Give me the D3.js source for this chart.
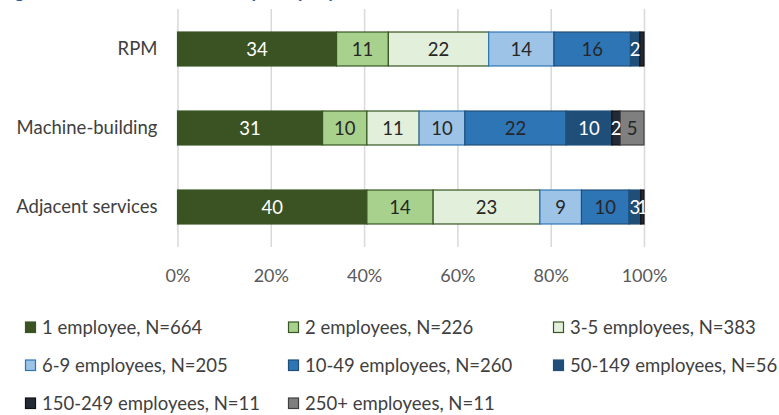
<!DOCTYPE html>
<html>
<head>
<meta charset="utf-8">
<script src="https://cdn.jsdelivr.net/npm/d3@7"></script>
<style>
  body { margin: 0; background: #fff; }
  svg text { font-family: Lato, "Open Sans", sans-serif; }
</style>
</head>
<body>
<div id="chart"></div>
<script>
// stacked 100% bars: company size by sector

var svgWidth = 779;
var svgHeight = 415;

// data
var categories = ["RPM", "Machine-building", "Adjacent services"];
var seriesNames = ["1 employee, N=664", "2 employees, N=226", "3-5 employees, N=383",
  "6-9 employees, N=205", "10-49 employees, N=260", "50-149 employees, N=56",
  "150-249 employees, N=11", "250+ employees, N=11"];
var rpmValues = [34.1, 11.1, 21.5, 14.0, 16.4, 2.0, 0.9, 0];
var machineValues = [31.1, 9.5, 11.2, 9.8, 21.7, 9.8, 1.8, 5.1];
var adjacentValues = [40.6, 14.2, 22.9, 8.9, 10.2, 2.5, 0.7, 0];
var rpmLabels = ["34", "11", "22", "14", "16", "2", "", ""];
var machineLabels = ["31", "10", "11", "10", "22", "10", "2", "5"];
var adjacentLabels = ["40", "14", "23", "9", "10", "3", "1", ""];
var tickValues = [0, 20, 40, 60, 80, 100];

var fills = ["#3b5323", "#a9d18e", "#e2efda", "#9dc3e6", "#2e75b6", "#1f4e79", "#222a35", "#7f7f7f"];
var strokes = ["#375623", "#375623", "#375623", "#2e75b6", "#1f4e79", "#1f4e79", "#111111", "#404040"];
var labelColors = ["#ffffff", "#262626", "#262626", "#262626", "#262626", "#ffffff", "#ffffff", "#262626"];

var valuesByCat = [rpmValues, machineValues, adjacentValues];
var labelsByCat = [rpmLabels, machineLabels, adjacentLabels];

// table for d3.stack
var table = categories.map(function(c, i) {
  var row = { cat: c };
  seriesNames.forEach(function(s, j) { row[s] = valuesByCat[i][j]; });
  return row;
});

var svg = d3.select("#chart")
  .append("svg")
  .attr("width", svgWidth)
  .attr("height", svgHeight);

// title, mostly cropped off the top in the original
svg.append("text")
  .attr("x", 0)
  .attr("y", -2)
  .attr("fill", "#2f5597")
  .attr("font-weight", "bold")
  .attr("font-size", 18)
  .text("Figure 2: Distribution of firms by company size");

var x = d3.scaleLinear().domain([0, 100]).range([177.5, 644]);
var y = d3.scaleBand().domain(categories).range([9.5, 246.5])
  .paddingInner(0.57).paddingOuter(0.285);

// gridlines + tick labels
var xAxis = svg.append("g")
  .attr("transform", "translate(0,247)")
  .call(d3.axisBottom(x)
    .tickValues(tickValues)
    .tickSize(-238)
    .tickPadding(22)
    .tickFormat(function(d) { return d + "%"; }));
xAxis.select(".domain").remove();
xAxis.selectAll("line").attr("stroke", "#d9d9d9").attr("stroke-width", 1.5);
xAxis.selectAll("text").attr("fill", "#595959").attr("font-size", 18);

var yAxis = svg.append("g")
  .attr("transform", "translate(177.5,0)")
  .call(d3.axisLeft(y).tickSize(0).tickPadding(20));
yAxis.select(".domain").remove();
yAxis.selectAll("text").attr("fill", "#404040").attr("font-size", 18.5);

var stack = d3.stack().keys(seriesNames);
var layers = stack(table);

var layerGroups = svg.selectAll("g.layer")
  .data(layers)
  .enter()
  .append("g")
  .attr("class", "layer");

layerGroups.selectAll("rect")
  .data(function(d) { return d.filter(function(p) { return p[1] - p[0] > 0; }); })
  .enter()
  .append("rect")
  .attr("x", function(d) { return x(d[0]); })
  .attr("y", function(d) { return y(d.data.cat); })
  .attr("width", function(d) { return x(d[1]) - x(d[0]); })
  .attr("height", y.bandwidth())
  .attr("fill", function() { return fills[d3.select(this.parentNode).datum().index]; })
  .attr("stroke", function() { return strokes[d3.select(this.parentNode).datum().index]; })
  .attr("stroke-width", 1.2);

// value labels
layers.forEach(function(layer, j) {
  layer.forEach(function(p, i) {
    var lab = labelsByCat[i][j];
    if (!lab) return;
    svg.append("text")
      .attr("x", x((p[0] + p[1]) / 2))
      .attr("y", y(p.data.cat) + y.bandwidth() / 2)
      .attr("dy", "0.36em")
      .attr("text-anchor", "middle")
      .attr("font-size", 18.5)
      .attr("fill", labelColors[j])
      .text(lab);
  });
});

// legend
var legendCols = [25, 288, 553];
var legendRows = [327, 365, 403];
var legend = svg.append("g");
seriesNames.forEach(function(s, j) {
  var cx = legendCols[j % 3];
  var cy = legendRows[Math.floor(j / 3)];
  legend.append("rect")
    .attr("x", cx + 0.5)
    .attr("y", cy - 5)
    .attr("width", 10)
    .attr("height", 10.5)
    .attr("fill", fills[j])
    .attr("stroke", strokes[j])
    .attr("stroke-width", 1.2);
  legend.append("text")
    .attr("x", cx + 17)
    .attr("y", cy)
    .attr("dy", "0.36em")
    .attr("font-size", 18.5)
    .attr("fill", "#404040")
    .text(s);
});
</script>
</body>
</html>
